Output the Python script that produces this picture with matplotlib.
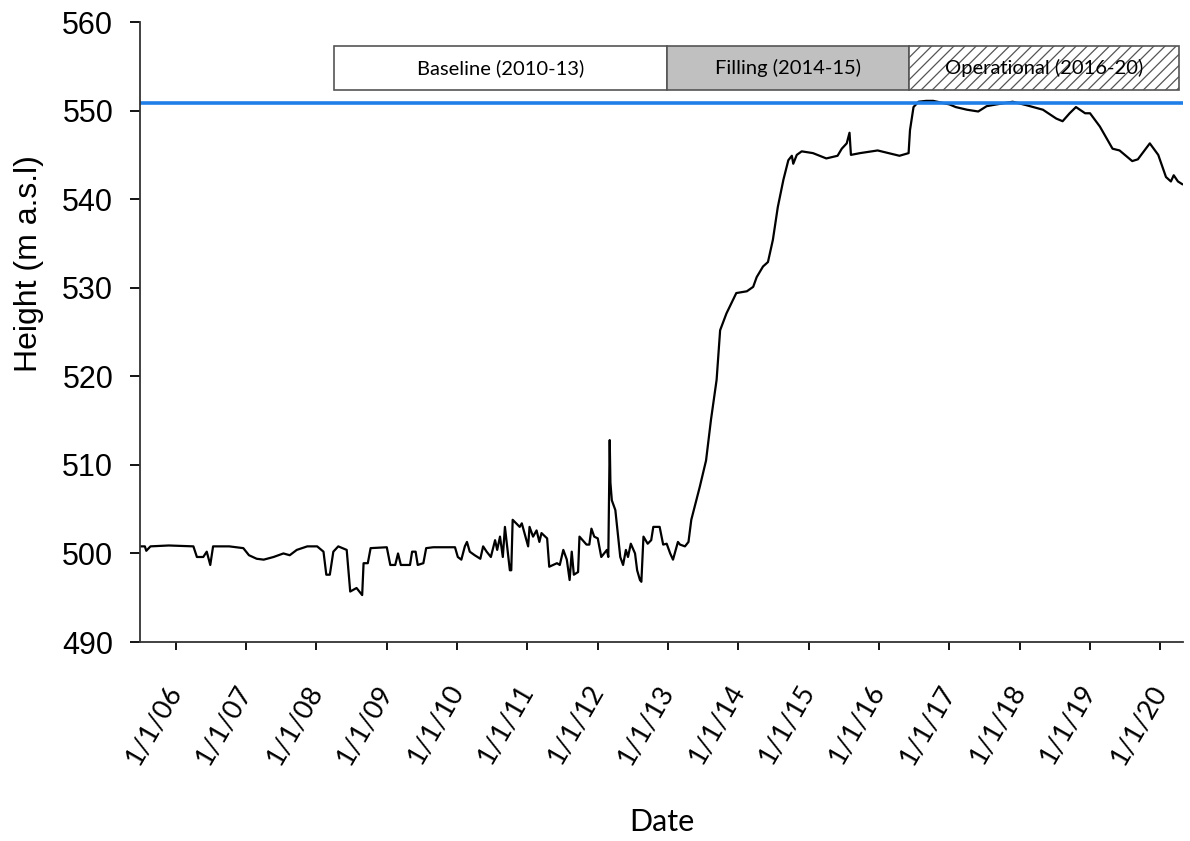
import matplotlib
matplotlib.use("Agg")
import matplotlib.pyplot as plt
from matplotlib.patches import Rectangle
from matplotlib.transforms import ScaledTranslation

# water level record (decimal year, height m a.s.l.)
years = [
    2005.49, 2005.56, 2005.58, 2005.64, 2005.90, 2006.25, 2006.30, 2006.39, 2006.44, 2006.49,
    2006.53, 2006.76, 2006.96, 2007.04, 2007.15, 2007.25, 2007.39, 2007.53, 2007.62, 2007.72,
    2007.87, 2008.01, 2008.10, 2008.14, 2008.19, 2008.24, 2008.31, 2008.43, 2008.48, 2008.57,
    2008.65, 2008.67, 2008.73, 2008.77, 2009.00, 2009.05, 2009.12, 2009.16, 2009.20, 2009.33,
    2009.36, 2009.41, 2009.44, 2009.52, 2009.56, 2009.66, 2009.97, 2010.01, 2010.06, 2010.11,
    2010.14, 2010.18, 2010.25, 2010.33, 2010.37, 2010.42, 2010.48, 2010.54, 2010.57, 2010.61,
    2010.65, 2010.68, 2010.75, 2010.77, 2010.79, 2010.89, 2010.92, 2011.01, 2011.03, 2011.08,
    2011.13, 2011.17, 2011.20, 2011.28, 2011.31, 2011.42, 2011.46, 2011.51, 2011.56, 2011.60,
    2011.63, 2011.66, 2011.72, 2011.74, 2011.84, 2011.88, 2011.91, 2011.95, 2012.00, 2012.05,
    2012.13, 2012.15, 2012.17, 2012.18, 2012.20, 2012.25, 2012.32, 2012.36, 2012.40, 2012.43,
    2012.47, 2012.53, 2012.56, 2012.60, 2012.62, 2012.65, 2012.71, 2012.76, 2012.79, 2012.88,
    2012.93, 2012.98, 2013.03, 2013.07, 2013.14, 2013.17, 2013.24, 2013.29, 2013.33, 2013.45,
    2013.54, 2013.61, 2013.69, 2013.74, 2013.83, 2013.97, 2014.12, 2014.21, 2014.26, 2014.35,
    2014.42, 2014.49, 2014.56, 2014.64, 2014.71, 2014.76, 2014.78, 2014.83, 2014.90, 2015.06,
    2015.25, 2015.41, 2015.47, 2015.54, 2015.58, 2015.60, 2015.73, 2015.98, 2016.29, 2016.42,
    2016.44, 2016.49, 2016.56, 2016.67, 2016.77, 2017.00, 2017.09, 2017.25, 2017.41, 2017.53,
    2017.67, 2017.90, 2018.10, 2018.33, 2018.52, 2018.61, 2018.71, 2018.80, 2018.93, 2019.00,
    2019.14, 2019.32, 2019.42, 2019.60, 2019.68, 2019.85, 2019.97, 2020.08, 2020.15, 2020.19,
    2020.25, 2020.31,
]
heights = [
    500.8, 500.8, 500.3, 500.8, 500.9, 500.8, 499.6, 499.6, 500.2, 498.7,
    500.8, 500.8, 500.6, 499.8, 499.4, 499.3, 499.6, 500.0, 499.8, 500.4,
    500.8, 500.8, 500.2, 497.6, 497.6, 500.2, 500.8, 500.4, 495.7, 496.1,
    495.3, 498.9, 498.9, 500.6, 500.7, 498.7, 498.7, 500.0, 498.7, 498.7,
    500.2, 500.2, 498.7, 498.9, 500.6, 500.7, 500.7, 499.6, 499.3, 500.8,
    501.3, 500.2, 499.8, 499.4, 500.8, 500.2, 499.6, 501.5, 500.4, 501.9,
    499.6, 503.0, 498.1, 498.1, 503.8, 503.0, 503.4, 500.8, 503.0, 501.9,
    502.6, 501.3, 502.3, 501.7, 498.5, 498.9, 498.7, 500.4, 499.3, 497.0,
    500.2, 497.6, 497.9, 501.9, 501.0, 501.0, 502.8, 501.9, 501.7, 499.6,
    500.4, 499.6, 512.8, 508.0, 506.0, 504.9, 499.6, 498.7, 500.4, 499.6,
    501.1, 500.0, 498.1, 497.0, 496.8, 501.9, 501.1, 501.5, 503.0, 503.0,
    501.0, 501.1, 500.0, 499.3, 501.3, 501.0, 500.8, 501.3, 503.8, 507.5,
    510.5, 515.1, 519.6, 525.2, 527.1, 529.4, 529.6, 530.1, 531.2, 532.4,
    532.9, 535.4, 539.1, 542.2, 544.4, 544.9, 544.0, 545.0, 545.4, 545.2,
    544.6, 544.9, 545.7, 546.3, 547.5, 545.0, 545.2, 545.5, 544.9, 545.2,
    547.8, 550.4, 551.0, 551.1, 551.1, 550.7, 550.4, 550.1, 549.9, 550.5,
    550.7, 551.0, 550.6, 550.1, 549.1, 548.8, 549.7, 550.4, 549.7, 549.7,
    548.2, 545.7, 545.5, 544.3, 544.5, 546.3, 545.0, 542.5, 542.0, 542.7,
    542.0, 541.7,
]

full_supply_level = 550.9

# phase boxes drawn above the record
phase_labels = ["Baseline (2010-13)", "Filling (2014-15)", "Operational (2016-20)"]
phase_starts = [2008.25, 2012.99, 2016.42]
phase_ends = [2012.99, 2016.42, 2020.27]
phase_colors = ["white", "#c0c0c0", "white"]
phase_hatches = [None, None, "///"]

tick_years = list(range(2006, 2021))
tick_labels = ["1/1/%02d" % (y % 100) for y in tick_years]

plt.rcParams["hatch.color"] = "#555555"
plt.rcParams["hatch.linewidth"] = 0.9

fig = plt.figure(figsize=(11.9, 8.41), dpi=100)
ax = fig.add_axes([0.1176, 0.2366, 0.8764, 0.7372])

ax.plot(years, heights, color="black", lw=1.6)
ax.axhline(full_supply_level, color="#1f7ee8", lw=2.6)

for lab, x0, x1, fc, h in zip(phase_labels, phase_starts, phase_ends, phase_colors, phase_hatches):
    ax.add_patch(Rectangle((x0, 552.3), x1 - x0, 5.0, facecolor=fc, edgecolor="#555555",
                           lw=1.2, hatch=h, zorder=3))
    ax.text((x0 + x1) / 2, 554.8, lab, ha="center", va="center", fontsize=14.5,
            family="Lato", zorder=4)

ax.set_xlim(2005.49, 2020.32)
ax.set_ylim(490, 560)
ax.set_yticks(range(490, 561, 10))
ax.set_xticks(tick_years)
ax.set_xticklabels(tick_labels, rotation=60, ha="right", va="center",
                   rotation_mode="anchor", fontsize=19.5, family="Lato")
shift = ScaledTranslation(-5 / 72, 0, fig.dpi_scale_trans)
for t in ax.get_xticklabels():
    t.set_transform(t.get_transform() + shift)
for t in ax.get_yticklabels():
    t.set_fontsize(22)
    t.set_family("Liberation Sans")
ax.tick_params(axis="x", length=6, width=1.3, pad=26)
ax.tick_params(axis="y", length=7.2, width=1.3, pad=12)

for s in ["top", "right"]:
    ax.spines[s].set_visible(False)
for s in ["left", "bottom"]:
    ax.spines[s].set_linewidth(1.3)
    ax.spines[s].set_color("#333333")

ax.set_ylabel("Height (m a.s.l)", fontsize=23, family="Liberation Sans")
ax.yaxis.set_label_coords(-0.092, 0.611)
ax.set_xlabel("Date", fontsize=22, family="Lato")
ax.xaxis.set_label_coords(0.5, -0.268)

fig.savefig("out.png", dpi=100)
